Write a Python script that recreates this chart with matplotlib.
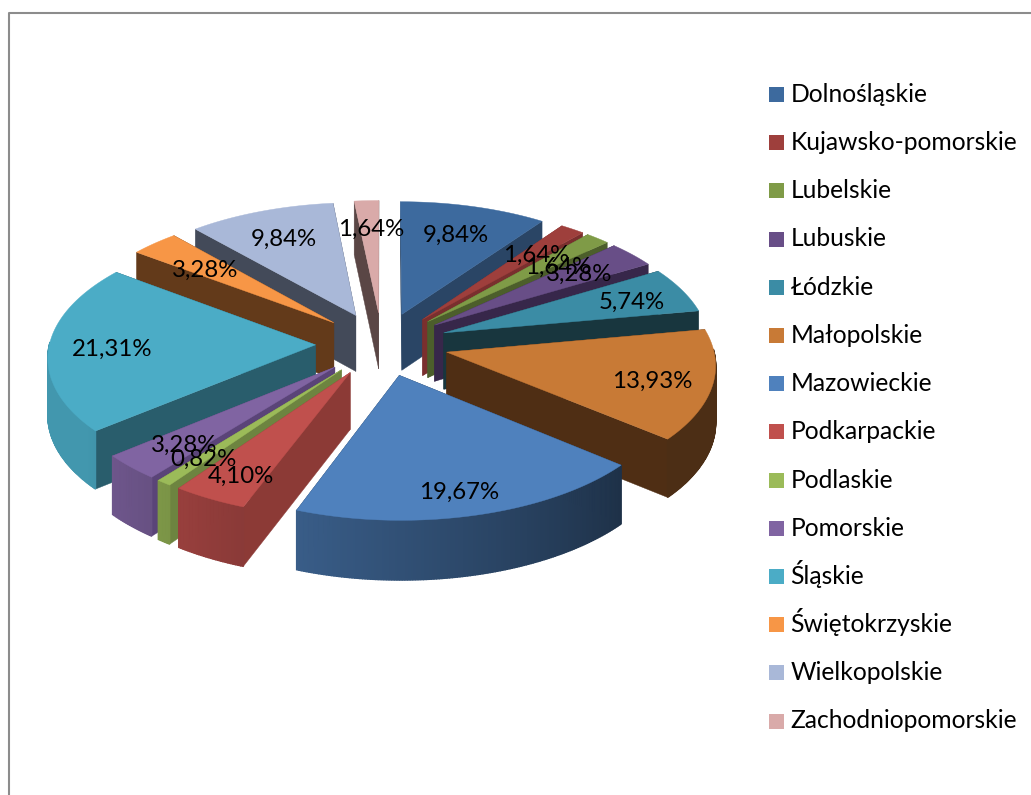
import numpy as np
import matplotlib
matplotlib.use("Agg")
import matplotlib.pyplot as plt
from matplotlib.patches import Rectangle

plt.rcParams['font.family'] = ['Lato', 'DejaVu Sans']

regions = ["Dolnośląskie", "Kujawsko-pomorskie", "Lubelskie", "Lubuskie", "Łódzkie",
           "Małopolskie", "Mazowieckie", "Podkarpackie", "Podlaskie", "Pomorskie",
           "Śląskie", "Świętokrzyskie", "Wielkopolskie", "Zachodniopomorskie"]
shares = [9.84, 1.64, 1.64, 3.28, 5.74, 13.93, 19.67, 4.10, 0.82, 3.28, 21.31, 3.28, 9.84, 1.64]
top_colors = ["#3d6a9e", "#9e3f3c", "#7f9b47", "#684e87", "#3b8ca5", "#c87a36", "#4f81bd",
              "#c0504d", "#9bbb59", "#8064a2", "#4bacc6", "#f79646", "#a9b8d8", "#d9aaa9"]
wall_colors = ["#2a4565", "#7a2f2e", "#4c5e2b", "#37274a", "#18363e", "#4f2e14", "#1e3350",
               "#8c3a36", "#6d8440", "#5a4478", "#295d6c", "#633a1a", "#434a59", "#5a4645"]
# small nudges of the data labels, in pixels
label_dx = [-2, -4, -2, -9, 3, 2, 2, -3, -4, 4, 2, 11, 2, 2]
label_dy = [5, 6, 11, 4, 3, 4, 12, 9, 4, 2, 2, 9, 5, 4]

# projection of the tilted pie
cx, cy = 382, 344
rx, ry = 266, 127
persp = 0.085
explode = 0.25
depth = 56.5
label_r = 0.77


def project(X, Y):
    s = 1 / (1 + persp * Y)
    return cx + rx * X * s, cy - ry * Y * s, depth * s ** 0.5


def shade(color, f):
    rgb = np.array(matplotlib.colors.to_rgb(color)) * f
    return tuple(rgb)


fig = plt.figure(figsize=(10.31, 7.95), dpi=100)
ax = fig.add_axes([0, 0, 1, 1])
ax.set_xlim(0, 1031)
ax.set_ylim(795, 0)
ax.axis('off')

# chart border
ax.plot([8.5, 8.5, 1031], [795, 12.5, 12.5], color="#8c8c8c", lw=1.5, solid_capstyle='butt')

edges = np.cumsum([0] + shares) / sum(shares) * 360
mids = (edges[:-1] + edges[1:]) / 2
order = np.argsort(-np.cos(np.radians(mids)))

z = 2
for i in order:
    t0, t1, tm = edges[i], edges[i + 1], mids[i]
    ox = explode * np.sin(np.radians(tm))
    oy = explode * np.cos(np.radians(tm))
    th = np.linspace(t0, t1, max(int(t1 - t0) * 2, 6))
    X = ox + np.sin(np.radians(th))
    Y = oy + np.cos(np.radians(th))
    px, py, pd = project(X, Y)
    tx, ty, td = project(ox, oy)

    # radial walls, the one further back first
    walls = [(px[0], py[0], pd[0], np.cos(np.radians(t0))), (px[-1], py[-1], pd[-1], np.cos(np.radians(t1)))]
    walls.sort(key=lambda w: -w[3])
    for wx, wy, wd, _ in walls:
        ax.fill([tx, wx, wx, tx], [ty, wy, wy + wd, ty + td], color=wall_colors[i], lw=0.3, zorder=z)
        z += 1

    # outer wall in strips, only the part facing us, darker towards the right
    for j in range(len(th) - 1):
        tc = (th[j] + th[j + 1]) / 2
        if np.cos(np.radians(tc)) > 0.02:
            continue
        f = np.interp(tc, [130, 234], [0.38, 0.88])
        ax.fill([px[j], px[j + 1], px[j + 1], px[j]],
                [py[j], py[j + 1], py[j + 1] + pd[j + 1], py[j] + pd[j]],
                color=shade(top_colors[i], f), lw=1.0, zorder=z)
    z += 1

    # top face
    ax.fill(np.r_[tx, px], np.r_[ty, py], color=top_colors[i], lw=0.3, zorder=z)
    z += 1

# data labels
for i, share in enumerate(shares):
    tm = np.radians(mids[i])
    lx, ly, _ = project((explode + label_r) * np.sin(tm), (explode + label_r) * np.cos(tm))
    ax.text(lx + label_dx[i], ly + label_dy[i], f"{share:.2f}%".replace(".", ","), ha='center', va='center',
            fontsize=17.3, color="black", zorder=z + 1)

# legend, rows evenly spaced
for i, (c, r) in enumerate(zip(top_colors, regions)):
    row = 94.4 + 48.2 * i
    ax.add_patch(Rectangle((769, row - 7.5), 15, 15, facecolor=c, edgecolor='none', zorder=z))
    ax.text(790.5, row + 7.5, r, ha='left', va='baseline', fontsize=17.7, color="black", zorder=z)

fig.savefig("out.png", dpi=100)
